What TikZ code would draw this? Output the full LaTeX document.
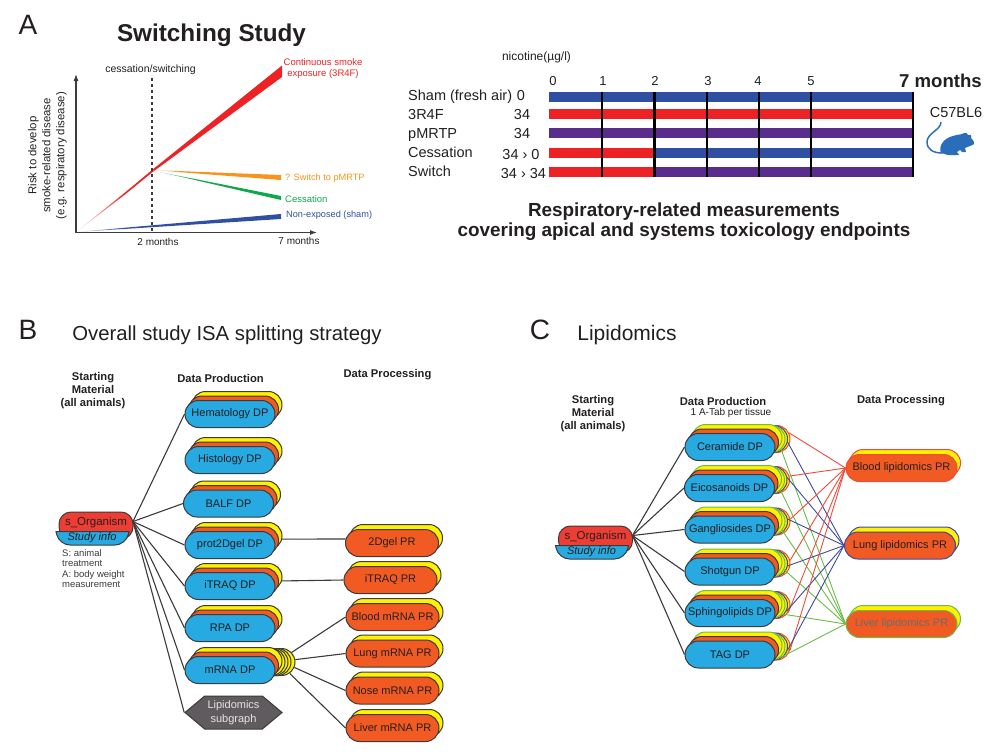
\documentclass[tikz,border=0pt]{standalone}
\usepackage{fontspec}
\setmainfont{Liberation Sans}
\usetikzlibrary{arrows.meta}
\usetikzlibrary{shapes.misc}
\usetikzlibrary{shapes.symbols}
\definecolor{inkcol}{HTML}{231F20}
\definecolor{edgecol}{HTML}{3C3A3B}
\definecolor{redcol}{HTML}{ED2224}
\definecolor{orangecol}{HTML}{F7941D}
\definecolor{greencol}{HTML}{0FA84A}
\definecolor{bluecol}{HTML}{2F4FA2}
\definecolor{purplecol}{HTML}{5A2D8C}
\definecolor{dpcol}{HTML}{27A9E1}
\definecolor{prcol}{HTML}{F15A22}
\definecolor{yellowcol}{HTML}{FFF200}
\definecolor{orgcol}{HTML}{EE3E34}
\definecolor{hexcol}{HTML}{5F5B5E}
\definecolor{linkred}{HTML}{EF4A3A}
\definecolor{linkblue}{HTML}{3C4BA0}
\definecolor{linkgreen}{HTML}{6ABD45}
\definecolor{mousecol}{HTML}{2A6EBB}
\tikzset{
  axisline/.style={-{Latex[length=7pt,width=5pt]},draw=edgecol,line width=1.1pt},
  txt/.style={inner sep=0pt,text=inkcol,font=\fontsize{#1}{#1}\selectfont},
  txt/.default=11,
  head/.style={inner sep=0pt,text=inkcol,align=center,font=\fontsize{11.2}{13}\selectfont\bfseries},
  pill/.style={rounded rectangle,draw=edgecol,line width=1pt,inner sep=0pt,minimum width=90pt,minimum height=27pt,text=inkcol,font=\fontsize{11}{13}\selectfont},
  dpfront/.style={pill,fill=dpcol},
  midlayer/.style={pill,fill=prcol},
  toplayer/.style={pill,fill=yellowcol},
  prfront/.style={pill,fill=prcol,minimum width=93pt},
  prback/.style={pill,fill=yellowcol,minimum width=93pt},
  lipfront/.style={pill,fill=prcol,minimum width=111pt,draw=#1},
  lipback/.style={pill,fill=yellowcol,minimum width=111pt,draw=#1},
  conn/.style={draw=edgecol,line width=1.1pt},
  link/.style={draw=#1,line width=0.9pt},
  bar/.style={fill=#1},
  tick/.style={draw=black,line width=#1},
}
% stack of three sheets, front one holds the text
\newcommand{\dpnode}[4]{
  \node[toplayer] (#1y) at (#2+7,#3-9) {};
  \node[midlayer] (#1o) at (#2+3.5,#3-4.5) {};
  \node[dpfront] (#1) at (#2,#3) {#4};
}
% same, with the three extra sheets of the lipid assays behind it
\newcommand{\lipdpnode}[4]{
  \node[toplayer,draw=linkred] (#1r) at (#2+15,#3-8) {};
  \node[toplayer,draw=linkblue] (#1b) at (#2+12.5,#3-8) {};
  \node[toplayer,draw=linkgreen] (#1g) at (#2+10,#3-8) {};
  \node[toplayer,draw=linkgreen] (#1y) at (#2+7,#3-9) {};
  \node[midlayer] (#1o) at (#2+3.5,#3-4.5) {};
  \node[dpfront] (#1) at (#2,#3) {#4};
}
\newcommand{\prnode}[4]{
  \node[prback] (#1y) at (#2+4,#3-5) {};
  \node[prfront] (#1) at (#2,#3) {#4};
}
\newcommand{\lipprnode}[5]{
  \node[lipback=#5] (#1y) at (#2+3.5,#3-5) {};
  \node[lipfront=#5] (#1) at (#2,#3) {#4};
}
\newcommand{\orgnode}[3]{
  \node[rectangle,rounded corners=12pt,draw=edgecol,fill=orgcol,line width=1pt,minimum width=74pt,minimum height=27pt,inner sep=0pt] (#1) at (#2,#3+13.5) {};
  \filldraw[draw=edgecol,fill=dpcol,line width=1pt] (#2-40,#3+19.5) [rounded corners=11pt] -- (#2-37,#3+33) -- (#2+30,#3+33) [sharp corners] -- (#2+33,#3+19.5) -- cycle;
  \node[txt=11.5] (#1txt) at (#2,#3+10.5) {s\_Organism};
  \node[txt=11,font=\fontsize{11}{13}\selectfont\itshape] (#1info) at (#2-4,#3+26) {Study info};
  \coordinate (#1out) at (#2+37,#3+9.5);
}
\begin{document}
\begin{tikzpicture}[x=1pt,y=-1pt]
\useasboundingbox (0,0) rectangle (1000,753);

\node[txt=28] (panela) at (28,25) {A};
\node[txt=28] (panelb) at (28,330) {B};
\node[txt=28] (panelc) at (540,330) {C};

\node[txt=24.3,font=\fontsize{24.3}{26}\selectfont\bfseries] (swtitle) at (211.5,35) {Switching Study};

\shade[left color=redcol!10,right color=redcol] (76,232) -- (125,192.5) -- (125,194.5) -- cycle;
\fill[redcol] (125,192.5) -- (152,170) -- (282,65.5) -- (282,77) -- (152,172.5) -- (125,194.5) -- cycle;
\shade[left color=orangecol!15,right color=orangecol] (152,170) -- (180,171.1) -- (180,172.2) -- cycle;
\fill[orangecol] (180,171.1) -- (281,175) -- (281,180) -- (180,172.2) -- cycle;
\shade[left color=greencol!15,right color=greencol] (152,170.5) -- (195,179) -- (195,180) -- cycle;
\fill[greencol] (195,179) -- (281,196) -- (281,200) -- (195,180) -- cycle;
\shade[left color=bluecol!10,right color=bluecol] (76,232) -- (125,227.7) -- (125,228.9) -- cycle;
\fill[bluecol] (125,227.7) -- (281,214) -- (281,219) -- (125,228.9) -- cycle;

\coordinate (axisorig) at (76,232.5);
\coordinate (axisy) at (76,74);
\coordinate (axisx) at (317,232.5);
\draw[axisline] (axisorig) -- (axisy);
\draw[axisline] (axisorig) -- (axisx);
\draw[edgecol,line width=1.1pt,dashed] (152,78) -- (152,232);

\node[txt=10.5] (cesslbl) at (150.5,70) {cessation/switching};
\node[txt=10] (twolbl) at (158,242) {2 months};
\node[txt=10] (sevenlbl) at (299,241) {7 months};
\node[inner sep=0pt,rotate=90,align=center,text=inkcol,font=\fontsize{11.4}{14}\selectfont] (risklbl) at (47.5,155.5) {Risk to develop\\smoke-related disease\\(e.g. respiratory disease)};
\node[inner sep=0pt,align=center,text=redcol,font=\fontsize{9.5}{11}\selectfont] (contlbl) at (323,68.5) {Continuous smoke\\exposure (3R4F)};
\node[txt=9.2,text=orangecol,anchor=west] (pmrtplbl) at (285,178) {? Switch to pMRTP};
\node[txt=9.5,text=greencol,anchor=west] (stoplbl) at (285,199) {Cessation};
\node[txt=9.2,text=bluecol,anchor=west] (shamlbl) at (286,215.5) {Non-exposed (sham)};

\node[txt=12] (nicolbl) at (536.5,57) {nicotine(µg/l)};
\node[txt=13] (m0) at (553,81) {0};
\node[txt=13] (m1) at (603,81) {1};
\node[txt=13] (m2) at (655,81) {2};
\node[txt=13] (m3) at (708,81) {3};
\node[txt=13] (m4) at (758,81) {4};
\node[txt=13] (m5) at (811,81) {5};
\node[txt=18,font=\fontsize{18.6}{20}\selectfont\bfseries,anchor=east] (m7) at (982,81) {7 months};

\fill[bar=bluecol] (549,91.5) rectangle (913,101.5);
\fill[bar=redcol] (549,109) rectangle (913,119);
\fill[bar=purplecol] (549,127.5) rectangle (913,137.5);
\fill[bar=redcol] (549,148) rectangle (654,158);
\fill[bar=bluecol] (654,148) rectangle (913,158);
\fill[bar=redcol] (549,167) rectangle (654,177);
\fill[bar=purplecol] (654,167) rectangle (913,177);

\draw[tick=1.6pt] (602,91.5) -- (602,177);
\draw[tick=3pt] (654,91.5) -- (654,177);
\draw[tick=1.4pt] (707,91.5) -- (707,177);
\draw[tick=1.4pt] (759,91.5) -- (759,177);
\draw[tick=1.6pt] (811,91.5) -- (811,177);
\draw[tick=1.2pt] (913,91.5) -- (913,177);

\node[txt=14.5,anchor=base west] (rowsham) at (408,100) {Sham (fresh air)};
\node[txt=14.5,anchor=base west] (row3r4f) at (408,119.2) {3R4F};
\node[txt=14.5,anchor=base west] (rowpmrtp) at (408,138.2) {pMRTP};
\node[txt=14.5,anchor=base west] (rowcess) at (408,157.2) {Cessation};
\node[txt=14.5,anchor=base west] (rowswitch) at (408,176.2) {Switch};
\node[txt=14.5,anchor=base] (dose0) at (521,100) {0};
\node[txt=14.5,anchor=base] (dose1) at (522,119.2) {34};
\node[txt=14.5,anchor=base] (dose2) at (522,138.2) {34};
\node[txt=14.5,anchor=base] (dose3) at (521,159.2) {34 › 0};
\node[txt=14.5,anchor=base] (dose4) at (523.5,178.2) {34 › 34};
\node[txt=14.5] (strain) at (956,113) {C57BL6};

\fill[mousecol] (941,153) .. controls (938,146) and (944,138) .. (953,136) .. controls (958,134) and (962,135) .. (964,133) .. controls (966,132) and (968,134) .. (968,135) .. controls (970,134) and (972,135) .. (971,138) .. controls (973,140) and (975,142) .. (974,144) .. controls (972,146) and (968,146) .. (965,148) -- (966,152) -- (962,152) -- (960,150) -- (957,152) -- (959,155) -- (948,155) -- cycle;
\draw[mousecol,line width=1.5pt] (941,122) .. controls (941,130) and (927,133) .. (927,142) .. controls (927,150) and (934,153) .. (942,153);

\node[inner sep=0pt,align=center,text=inkcol,font=\fontsize{18.9}{20}\selectfont\bfseries] (measlbl) at (684,221.5) {Respiratory-related measurements\\covering apical and systems toxicology endpoints};

\node[txt=20.3] (btitle) at (227,335) {Overall study ISA splitting strategy};
\node[head] (bstart) at (93,391) {Starting\\Material\\(all animals)};
\node[head] (bprod) at (220.5,378) {Data Production};
\node[head] (bproc) at (387.5,375) {Data Processing};

\orgnode{orgb}{96}{512}
\node[inner sep=0pt,anchor=north west,align=left,text=edgecol,font=\fontsize{9.5}{10.3}\selectfont] (orgnote) at (62,549.5) {S: animal\\treatment\\A: body weight\\measurement};

\dpnode{hema}{230}{414}{Hematology DP}
\dpnode{histo}{230}{460}{Histology DP}
\dpnode{balf}{228.5}{503.5}{BALF DP}
\dpnode{prot}{230}{545}{prot2Dgel DP}
\dpnode{itraq}{230}{586}{iTRAQ DP}
\dpnode{rpa}{230}{628}{RPA DP}
\node[toplayer] (mrnae) at (250,662) {};
\node[toplayer] (mrnad) at (246,662) {};
\node[toplayer] (mrnac) at (243,662) {};
\node[toplayer] (mrnab) at (240,662) {};
\dpnode{mrna}{230}{670}{mRNA DP}
\node[signal,signal to=west and east,signal pointer angle=80,draw=edgecol,fill=hexcol,line width=1pt,inner sep=0pt,minimum width=97pt,minimum height=33pt,align=center,text=white!90!black,font=\fontsize{11}{13.5}\selectfont] (lipsub) at (233.5,712.5) {Lipidomics\\subgraph};

\prnode{gelpr}{392}{543}{2Dgel PR\hspace{18pt}}
\prnode{itraqpr}{390.5}{580}{iTRAQ PR}
\prnode{bloodpr}{392.5}{617}{Blood mRNA PR}
\prnode{lungpr}{392.5}{653.5}{Lung mRNA PR}
\prnode{nosepr}{392.5}{690.5}{Nose mRNA PR}
\prnode{liverpr}{392.5}{728}{Liver mRNA PR}

\draw[conn] (orgbout) -- (hema.west);
\draw[conn] (orgbout) -- (balf.west);
\draw[conn] (orgbout) -- (prot.west);
\draw[conn] (orgbout) -- (itraq.west);
\draw[conn] (orgbout) -- (rpa.west);
\draw[conn] (orgbout) -- (mrna.west);
\draw[conn] (orgbout) -- (lipsub.west);
\draw[conn] (proty.-4) -- (gelpr.175);
\draw[conn] (itraqy.-5) -- (itraqpr.west);
\draw[conn] (mrnae.13) -- (bloodpr.west);
\draw[conn] (mrnae.3) -- (lungpr.west);
\draw[conn] (mrnae.-7) -- (nosepr.west);
\draw[conn] (mrnae.-16) -- (liverpr.west);

\node[txt=21] (ctitle) at (627,335) {Lipidomics};
\node[head] (cstart) at (593,414) {Starting\\Material\\(all animals)};
\node[head] (cprod) at (723,401) {Data Production};
\node[txt=10] (cnote) at (731,413) {1 A-Tab per tissue};
\node[head] (cproc) at (901,401) {Data Processing};

\orgnode{orgc}{595.5}{526}

\lipdpnode{cer}{730}{447}{Ceramide DP}
\lipdpnode{eic}{729.5}{488}{Eicosanoids DP}
\lipdpnode{gan}{730}{529.5}{Gangliosides DP}
\lipdpnode{sho}{730}{571.5}{Shotgun DP}
\lipdpnode{sph}{730}{613}{Sphingolipids DP}
\lipdpnode{tag}{730}{654.5}{TAG DP}

\lipprnode{bloodlip}{901.5}{468}{Blood lipidomics PR}{linkred}
\lipprnode{lunglip}{900}{545.5}{Lung lipidomics PR}{linkblue}
\lipprnode{liverlip}{901.5}{624}{\textcolor{edgecol!75}{Liver lipidomics PR}}{linkgreen}

\draw[conn] (orgcout) -- (cer.west);
\draw[conn] (orgcout) -- (eic.west);
\draw[conn] (orgcout) -- (gan.west);
\draw[conn] (orgcout) -- (sho.west);
\draw[conn] (orgcout) -- (sph.west);
\draw[conn] (orgcout) -- (tag.west);

\draw[link=linkred] (cerr.8) -- (bloodlip.west);
\draw[link=linkblue] (cerb.-4) -- (lunglip.west);
\draw[link=linkgreen] (cerg.-14) -- (liverlip.west);
\draw[link=linkred] (eicr.5) -- (bloodlip.west);
\draw[link=linkblue] (eicb.3) -- (lunglip.west);
\draw[link=linkgreen] (eicg.-14) -- (liverlip.west);
\draw[link=linkred] (ganr.3) -- (bloodlip.west);
\draw[link=linkblue] (ganb.3) -- (lunglip.west);
\draw[link=linkgreen] (gang.-12) -- (liverlip.west);
\draw[link=linkred] (shor.4) -- (bloodlip.west);
\draw[link=linkblue] (shob.-3) -- (lunglip.west);
\draw[link=linkgreen] (shog.-8) -- (liverlip.west);
\draw[link=linkred] (sphr.-10) -- (bloodlip.west);
\draw[link=linkblue] (sphb.-8) -- (lunglip.west);
\draw[link=linkgreen] (sphg.-12) -- (liverlip.west);
\draw[link=linkred] (tagr.-5) -- (bloodlip.west);
\draw[link=linkblue] (tagb.-5) -- (lunglip.west);
\draw[link=linkgreen] (tagg.-16) -- (liverlip.west);
\end{tikzpicture}
\end{document}
